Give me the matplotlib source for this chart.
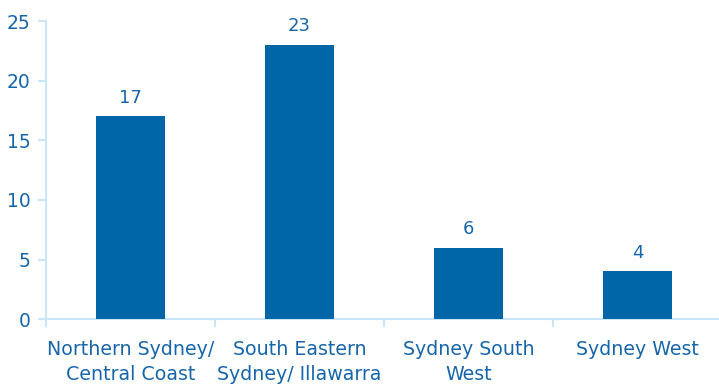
import matplotlib
matplotlib.use("Agg")
import matplotlib.pyplot as plt
import numpy as np

regions = ["Northern Sydney/\nCentral Coast", "South Eastern\nSydney/ Illawarra",
           "Sydney South\nWest", "Sydney West"]
counts = [17, 23, 6, 4]
y_ticks = [0, 5, 10, 15, 20, 25]

bar_color = "#0066a8"
text_color = "#1866aa"
axis_color = "#c8e6f7"

plt.rcParams["font.family"] = ["DejaVu Sans"]

fig = plt.figure(figsize=(7.19, 3.84), dpi=100)
ax = fig.add_axes([0.064, 0.169, 0.94, 0.776])

x = np.arange(len(regions))
ax.bar(x, counts, width=0.41, color=bar_color, zorder=3)
for xi, c in zip(x, counts):
    ax.annotate(str(c), (xi, c), xytext=(0, 7), textcoords="offset points",
                ha="center", va="bottom", fontsize=13, color=text_color)

ax.set_xlim(-0.5, len(regions) - 0.5)
ax.set_ylim(0, 25)
ax.set_yticks(y_ticks)
ax.set_xticks(x)
ax.set_xticklabels(regions)
ax.set_xticks(np.arange(len(regions) + 1) - 0.5, minor=True)

for s in ["top", "right"]:
    ax.spines[s].set_visible(False)
for s in ["left", "bottom"]:
    ax.spines[s].set_color(axis_color)
    ax.spines[s].set_linewidth(1.5)

ax.tick_params(axis="y", length=6, width=1.5, color=axis_color, pad=5,
               labelsize=13.5, labelcolor=text_color)
ax.tick_params(axis="x", which="major", length=0, pad=15,
               labelsize=13.7, labelcolor=text_color)
ax.tick_params(axis="x", which="minor", length=6, width=1.5, color=axis_color)
for lbl in ax.get_xticklabels():
    lbl.set_linespacing(1.4)

fig.savefig("out.png", dpi=100)
